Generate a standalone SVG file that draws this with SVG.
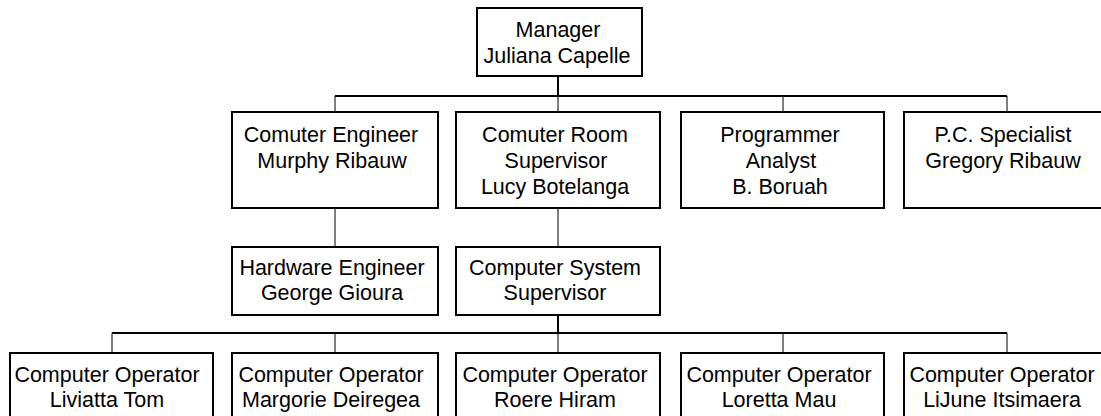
<svg xmlns="http://www.w3.org/2000/svg" width="1101" height="416" viewBox="0 0 1101 416">
  <style>
    .box { fill: #ffffff; stroke: #000000; stroke-width: 2; }
    .stem { stroke: #000000; stroke-width: 2; fill: none; }
    .drop { stroke: #000000; stroke-width: 1; fill: none; }
    text { font-family: "Liberation Sans", Arial, sans-serif; font-size: 21.5px; fill: #000000; text-anchor: middle; }
  </style>
  <rect width="1101" height="416" fill="#ffffff"/>

  <!-- connectors -->
  <g id="connectors">
    <line class="stem" x1="558" y1="76" x2="558" y2="96"/>
    <line class="stem" x1="335" y1="96" x2="1007" y2="96"/>
    <line class="drop" x1="335" y1="96" x2="335" y2="112"/>
    <line class="drop" x1="558" y1="96" x2="558" y2="112"/>
    <line class="drop" x1="783" y1="96" x2="783" y2="112"/>
    <line class="drop" x1="1007" y1="96" x2="1007" y2="112"/>

    <line class="drop" x1="335" y1="208" x2="335" y2="247"/>
    <line class="drop" x1="558" y1="208" x2="558" y2="247"/>

    <line class="stem" x1="558" y1="315" x2="558" y2="333"/>
    <line class="stem" x1="112" y1="333" x2="1007" y2="333"/>
    <line class="drop" x1="112" y1="333" x2="112" y2="353"/>
    <line class="drop" x1="335" y1="333" x2="335" y2="353"/>
    <line class="drop" x1="558" y1="333" x2="558" y2="353"/>
    <line class="drop" x1="783" y1="333" x2="783" y2="353"/>
    <line class="drop" x1="1007" y1="333" x2="1007" y2="353"/>
  </g>

  <!-- top level -->
  <g id="manager">
    <rect class="box" x="477" y="8" width="165" height="68"/>
    <text x="558" y="37">Manager</text>
    <text x="557" y="63">Juliana Capelle</text>
  </g>

  <!-- second level -->
  <g id="computer-engineer">
    <rect class="box" x="232" y="112" width="206" height="96"/>
    <text x="331" y="142">Comuter Engineer</text>
    <text x="332" y="168">Murphy Ribauw</text>
  </g>
  <g id="computer-room-supervisor">
    <rect class="box" x="456" y="112" width="204" height="96"/>
    <text x="555" y="142">Comuter Room</text>
    <text x="556" y="168">Supervisor</text>
    <text x="555" y="194">Lucy Botelanga</text>
  </g>
  <g id="programmer-analyst">
    <rect class="box" x="681" y="112" width="203" height="96"/>
    <text x="780" y="142">Programmer</text>
    <text x="781" y="168">Analyst</text>
    <text x="780" y="194">B. Boruah</text>
  </g>
  <g id="pc-specialist">
    <rect class="box" x="904" y="112" width="206" height="96"/>
    <text x="1003" y="142">P.C. Specialist</text>
    <text x="1003" y="168">Gregory Ribauw</text>
  </g>

  <!-- third level -->
  <g id="hardware-engineer">
    <rect class="box" x="232" y="247" width="206" height="68"/>
    <text x="332" y="275">Hardware Engineer</text>
    <text x="332" y="300">George Gioura</text>
  </g>
  <g id="computer-system-supervisor">
    <rect class="box" x="456" y="247" width="204" height="68"/>
    <text x="555" y="275">Computer System</text>
    <text x="555" y="300">Supervisor</text>
  </g>

  <!-- operators -->
  <g id="operator-liviatta">
    <rect class="box" x="10" y="353" width="203" height="80"/>
    <text x="107" y="382">Computer Operator</text>
    <text x="107" y="407">Liviatta Tom</text>
  </g>
  <g id="operator-margorie">
    <rect class="box" x="232" y="353" width="206" height="80"/>
    <text x="331" y="382">Computer Operator</text>
    <text x="331" y="407">Margorie Deiregea</text>
  </g>
  <g id="operator-roere">
    <rect class="box" x="456" y="353" width="204" height="80"/>
    <text x="555" y="382">Computer Operator</text>
    <text x="555" y="407">Roere Hiram</text>
  </g>
  <g id="operator-loretta">
    <rect class="box" x="681" y="353" width="203" height="80"/>
    <text x="779" y="382">Computer Operator</text>
    <text x="779" y="407">Loretta Mau</text>
  </g>
  <g id="operator-lijune">
    <rect class="box" x="904" y="353" width="206" height="80"/>
    <text x="1002" y="382">Computer Operator</text>
    <text x="1002" y="407">LiJune Itsimaera</text>
  </g>
</svg>
